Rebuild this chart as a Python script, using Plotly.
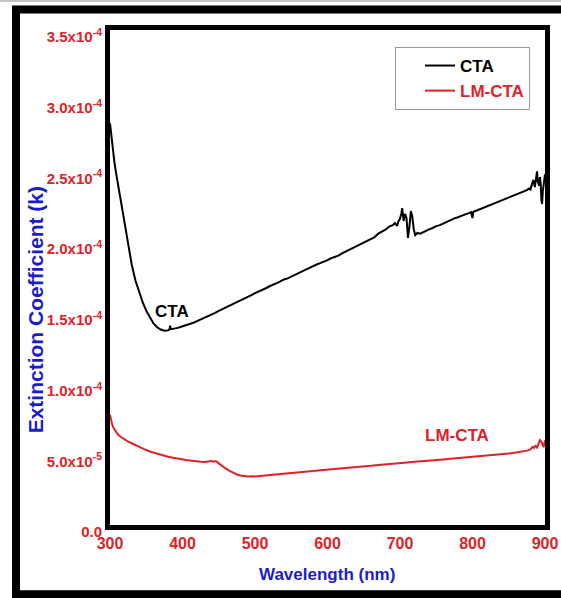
import numpy as np
import plotly.graph_objects as go

# ---------------- data (k in units of 1e-4) ----------------
wl_cta = [300, 302, 304, 306, 308, 310, 312, 315, 318, 320, 323, 326, 330, 335, 340, 345, 350, 355, 360, 365,
          370, 375, 380, 382, 383, 384, 388, 392, 396, 400, 405, 410, 415, 420, 425, 430, 435, 440, 445, 450,
          455, 460, 465, 470, 475, 480, 485, 490, 495, 500, 505, 510, 515, 520, 525, 530, 535, 540, 545, 550,
          555, 560, 565, 570, 575, 580, 585, 590, 595, 600, 605, 610, 615, 620, 625, 630, 635, 640, 645, 650,
          655, 660, 665, 670, 675, 680, 685, 690, 693, 696, 698, 700, 702, 703, 705, 707, 709, 711, 713, 715,
          717, 719, 721, 724, 728, 732, 736, 740, 745, 750, 755, 760, 765, 770, 775, 780, 785, 790, 795, 798,
          800, 801, 805, 810, 815, 820, 825, 830, 835, 840, 845, 850, 855, 860, 865, 870, 875, 878, 880, 882,
          884, 886, 888, 889, 890, 892, 893, 894, 895, 896, 897, 898, 899, 900]
k_cta = [2.84, 2.74, 2.65, 2.57, 2.50, 2.44, 2.38, 2.30, 2.22, 2.15, 2.05, 1.95, 1.84, 1.73, 1.645, 1.575, 1.515, 1.465, 1.425, 1.398,
         1.382, 1.374, 1.376, 1.383, 1.41, 1.385, 1.386, 1.392, 1.398, 1.404, 1.412, 1.421, 1.430, 1.441, 1.452, 1.463, 1.476, 1.489, 1.500, 1.514,
         1.526, 1.540, 1.551, 1.566, 1.578, 1.590, 1.603, 1.615, 1.626, 1.640, 1.650, 1.662, 1.674, 1.688, 1.697, 1.710, 1.722, 1.736, 1.744, 1.758,
         1.770, 1.781, 1.793, 1.806, 1.815, 1.829, 1.842, 1.852, 1.861, 1.873, 1.886, 1.896, 1.905, 1.921, 1.934, 1.947, 1.958, 1.972, 1.983, 1.999,
         2.010, 2.024, 2.036, 2.060, 2.075, 2.088, 2.110, 2.120, 2.135, 2.115, 2.150, 2.165, 2.205, 2.240, 2.150, 2.200, 2.170, 2.030, 2.110, 2.220,
         2.180, 2.090, 2.050, 2.065, 2.060, 2.072, 2.080, 2.090, 2.100, 2.113, 2.120, 2.133, 2.145, 2.155, 2.168, 2.176, 2.188, 2.196, 2.205, 2.212,
         2.170, 2.215, 2.222, 2.232, 2.244, 2.252, 2.265, 2.276, 2.283, 2.296, 2.306, 2.315, 2.324, 2.337, 2.345, 2.356, 2.368, 2.380, 2.372, 2.410,
         2.440, 2.390, 2.470, 2.500, 2.430, 2.400, 2.460, 2.420, 2.300, 2.270, 2.360, 2.420, 2.450, 2.480]

wl_lm = [300, 301, 303, 305, 308, 311, 315, 320, 325, 330, 335, 340, 345, 350, 355, 360, 365, 370, 375, 380,
         385, 390, 395, 400, 405, 410, 415, 420, 425, 430, 435, 440, 443, 446, 450, 455, 460, 465, 470, 475,
         480, 485, 490, 495, 500, 510, 520, 530, 540, 550, 560, 570, 580, 590, 600, 610, 620, 630, 640, 650,
         660, 670, 680, 690, 700, 710, 720, 730, 740, 750, 760, 770, 780, 790, 800, 810, 820, 830, 840, 850,
         860, 870, 875, 880, 883, 885, 887, 889, 891, 893, 895, 897, 898, 900]
k_lm = [0.78, 0.75, 0.71, 0.685, 0.66, 0.64, 0.622, 0.605, 0.59, 0.578, 0.565, 0.552, 0.540, 0.530, 0.520, 0.512, 0.505, 0.497, 0.490, 0.483,
        0.478, 0.472, 0.468, 0.463, 0.459, 0.456, 0.452, 0.450, 0.447, 0.446, 0.449, 0.452, 0.447, 0.452, 0.436, 0.415, 0.398, 0.382, 0.368, 0.357,
        0.350, 0.346, 0.343, 0.345, 0.343, 0.348, 0.352, 0.356, 0.362, 0.366, 0.372, 0.376, 0.381, 0.387, 0.391, 0.396, 0.401, 0.405, 0.410, 0.414,
        0.419, 0.425, 0.428, 0.433, 0.438, 0.442, 0.447, 0.450, 0.455, 0.459, 0.464, 0.468, 0.472, 0.476, 0.480, 0.485, 0.489, 0.494, 0.499, 0.505,
        0.512, 0.520, 0.526, 0.534, 0.552, 0.545, 0.560, 0.548, 0.575, 0.600, 0.590, 0.560, 0.550, 0.600]

x_tickvals = [300, 400, 500, 600, 700, 800, 900]
x_ticktext = ["300", "400", "500", "600", "700", "800", "900"]
y_tickvals = [0.0, 0.5e-4, 1.0e-4, 1.5e-4, 2.0e-4, 2.5e-4, 3.0e-4, 3.5e-4]
y_ticktext = ["0.0", "5.0x10<sup>-5</sup>", "1.0x10<sup>-4</sup>", "1.5x10<sup>-4</sup>", "2.0x10<sup>-4</sup>",
              "2.5x10<sup>-4</sup>", "3.0x10<sup>-4</sup>", "3.5x10<sup>-4</sup>"]

SCALE = 1e-4
FONT = "Liberation Sans, Arial, sans-serif"
RED = "#e02228"
BLUE = "#1b1bd0"

fig = go.Figure()
fig.add_trace(go.Scatter(x=wl_cta, y=np.array(k_cta) * SCALE, mode="lines", name="CTA",
                         line=dict(color="black", width=2)))
fig.add_trace(go.Scatter(x=wl_lm, y=np.array(k_lm) * SCALE, mode="lines",
                         name="<span style='color:%s'>LM-CTA</span>" % RED,
                         line=dict(color=RED, width=2)))

fig.update_xaxes(range=[300, 900], tickvals=x_tickvals, ticktext=x_ticktext,
                 showgrid=False, zeroline=False, showline=True, mirror=True, automargin=False,
                 linecolor="black", linewidth=5, ticks="",
                 tickfont=dict(family=FONT, size=16, color=RED, weight="bold"))
fig.update_yaxes(range=[0, 3.5e-4], tickvals=y_tickvals, ticktext=y_ticktext,
                 showgrid=False, zeroline=False, showline=True, mirror=True, automargin=False,
                 linecolor="black", linewidth=5, ticks="", ticklabelshift=7,
                 tickfont=dict(family=FONT, size=15, color=RED, weight="bold"))

annotations = [
    dict(text="Wavelength (nm)", xref="paper", yref="paper", x=0.499, y=-0.101,
         xanchor="center", yanchor="middle", showarrow=False,
         font=dict(family=FONT, size=17, color=BLUE, weight="bold")),
    dict(text="Extinction Coefficient (k)", xref="paper", yref="paper", x=-0.172, y=0.434,
         xanchor="center", yanchor="middle", showarrow=False, textangle=-90,
         font=dict(family=FONT, size=21, color=BLUE, weight="bold")),
    dict(text="CTA", x=385, y=1.51e-4, showarrow=False, xanchor="center", yanchor="middle",
         font=dict(family=FONT, size=17, color="black", weight="bold")),
    dict(text="LM-CTA", x=779, y=0.63e-4, showarrow=False, xanchor="center", yanchor="middle",
         font=dict(family=FONT, size=17, color=RED, weight="bold")),
]

shapes = [
    dict(type="rect", xref="paper", yref="paper", x0=-0.216, x1=1.08, y0=-0.14, y1=1.0414,
         line=dict(color="black", width=8), layer="below"),
    dict(type="line", xref="paper", yref="paper", x0=-0.3, x1=1.1, y0=1.0586, y1=1.0586,
         line=dict(color="#888888", width=1)),
]

fig.update_layout(
    width=561, height=598,
    margin=dict(l=110, r=16, t=30, b=73, autoexpand=False),
    paper_bgcolor="white", plot_bgcolor="white",
    showlegend=True,
    legend=dict(x=0.9655, y=0.9657, xanchor="right", yanchor="top", indentation=24,
                bgcolor="white", bordercolor="#999999", borderwidth=1,
                font=dict(family=FONT, size=17, color="black", weight="bold")),
    annotations=annotations,
    shapes=shapes,
)

fig.write_html("out.html")
